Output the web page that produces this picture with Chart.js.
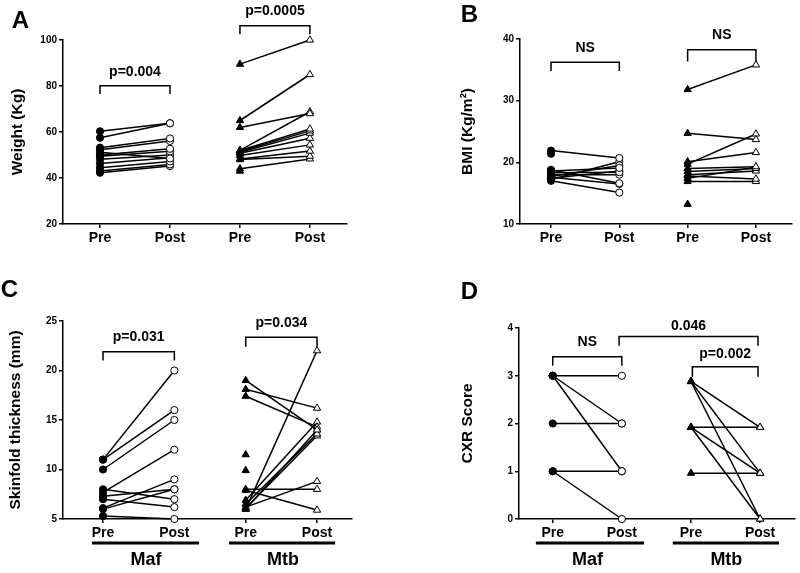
<!DOCTYPE html>
<html><head><meta charset="utf-8">
<script src="https://cdn.jsdelivr.net/npm/chart.js@4.4.1/dist/chart.umd.min.js"></script>
<style>
body{margin:0;background:#fff;width:800px;height:573px;position:relative;overflow:hidden}
canvas{position:absolute}
</style></head><body>
<canvas id="cA" width="400" height="280" style="left:0;top:0"></canvas>
<canvas id="cB" width="400" height="280" style="left:400px;top:0"></canvas>
<canvas id="cC" width="400" height="293" style="left:0;top:280px"></canvas>
<canvas id="cD" width="400" height="293" style="left:400px;top:280px"></canvas>
<script>
// ---- data ----
const xLabels = ['Pre', 'Post', 'Pre', 'Post'];
const groupLabels = ['Maf', 'Mtb'];

const weightMafPre  = [60.3, 57.5, 53.2, 52.3, 51.2, 50.0, 49.5, 48.1, 46.3, 44.5, 43.0, 42.3];
const weightMafPost = [63.8, 63.8, 57.2, 56.1, 48.5, 52.7, 51.6, 50.0, 48.8, 47.2, 45.9, 45.2];
const weightMtbPre  = [89.5, 65.0, 62.0, 52.0, 52.0, 51.6, 51.2, 50.8, 49.8, 48.3, 48.0, 44.0, 43.0];
const weightMtbPost = [100.0, 85.0, 68.0, 68.8, 61.3, 60.5, 59.5, 57.3, 54.4, 51.7, 49.5, 48.3, null];

const bmiMafPre  = [21.9, 21.4, 18.8, 18.6, 18.3, 18.0, 17.7, 17.6, 17.4, 17.2, 17.0];
const bmiMafPost = [20.7, null, 16.6, 19.1, 18.4, 18.0, 19.5, 16.5, 18.6, 20.1, 15.1];
const bmiMtbPre  = [31.8, 24.7, 20.1, 19.7, 19.0, 18.5, 18.0, 17.8, 17.4, 16.9, 13.2];
const bmiMtbPost = [35.8, 23.7, 21.6, 24.6, 19.3, 19.0, 18.6, 17.3, 19.2, 16.9, null];

const skinMafPre  = [11, 11, 10, 7.7, 8, 7.3, 7, 6.1, 6, 5.3];
const skinMafPost = [20, 16, 15, 12, 7, 8, 6.2, 9, 8, 5];
const skinMtbPre  = [19, 18.1, 17.4, 6, 8, 7.9, 6.2, 6.9, 6.5, 6.1, 6.0, 11.5, 9.9];
const skinMtbPost = [14, 16.2, 14.3, 22, 8, 5.9, 8.8, 14.8, 13.6, 13.4, 14.0, null, null];

const cxrMafPre  = [3, 3, 3, 2, 1, 1];
const cxrMafPost = [3, 2, 1, 2, 1, 0];
const cxrMtbPre  = [2.88, 2.88, 2.88, 1.92, 1.92, 1.92, 0.96];
const cxrMtbPost = [1.92, 0.96, 0, 1.92, 0.96, 0, 0.96];

// ---- helpers ----
const FONT = "'Liberation Sans', Arial, sans-serif";
Chart.defaults.font.family = FONT;
Chart.defaults.color = '#000';

function pairs(pre, post, grp) {
  const shape = grp === 'maf' ? 'circle' : 'triangle';
  const xo = grp === 'maf' ? 0 : 2;
  return pre.map((p, i) => ({
    data: post[i] == null ? [{x: 1 + xo, y: p}] : [{x: 1 + xo, y: p}, {x: 2 + xo, y: post[i]}],
    borderColor: '#000', borderWidth: 1.5, tension: 0, fill: false, clip: false,
    pointStyle: shape, pointRadius: grp === 'maf' ? 3.6 : 4.2,
    pointBackgroundColor: ['#000', '#fff'], pointBorderColor: '#000', pointBorderWidth: 1
  }));
}

function makeChart(id, c) {
  const deco = {
    id: 'deco' + id,
    afterDraw(chart) {
      const ctx = chart.ctx, xs = chart.scales.x, ys = chart.scales.y;
      ctx.save();
      ctx.fillStyle = '#000'; ctx.strokeStyle = '#000';
      ctx.textAlign = 'center'; ctx.textBaseline = 'middle';
      ctx.font = 'bold 24px ' + FONT;
      ctx.fillText(c.letter, c.letterPos[0], c.letterPos[1]);
      ctx.lineWidth = 1.5;
      ctx.font = 'bold 14px ' + FONT;
      c.brackets.forEach(b => {
        const X1 = xs.getPixelForValue(b.x1), X2 = xs.getPixelForValue(b.x2);
        const YT = ys.getPixelForValue(b.top), YE = ys.getPixelForValue(b.end);
        ctx.beginPath();
        ctx.moveTo(X1, YE); ctx.lineTo(X1, YT); ctx.lineTo(X2, YT); ctx.lineTo(X2, YE);
        ctx.stroke();
        ctx.fillText(b.text, (X1 + X2) / 2, ys.getPixelForValue(b.ty));
      });
      if (c.groups) {
        ctx.lineWidth = 3;
        ctx.font = 'bold 18px ' + FONT;
        c.groups.forEach((g, i) => {
          ctx.beginPath();
          ctx.moveTo(xs.getPixelForValue(g.x1), c.lineY);
          ctx.lineTo(xs.getPixelForValue(g.x2), c.lineY);
          ctx.stroke();
          ctx.fillText(groupLabels[i], xs.getPixelForValue(g.xc), c.labelY);
        });
      }
      ctx.restore();
    }
  };
  const axisGrid = {display: true, drawOnChartArea: false, drawTicks: true, tickLength: 4, color: '#000', lineWidth: 1.5};
  const axisBorder = {display: true, color: '#000', width: 1.5};
  new Chart(document.getElementById(id), {
    type: 'line',
    data: {datasets: [...pairs(c.mafPre, c.mafPost, 'maf'), ...pairs(c.mtbPre, c.mtbPost, 'mtb')]},
    options: {
      responsive: false, animation: false, devicePixelRatio: 1,
      layout: {padding: {left: c.padL, right: c.padR, top: c.padT, bottom: 0}},
      plugins: {legend: {display: false}, tooltip: {enabled: false}},
      scales: {
        x: {
          type: 'linear', min: c.xmin, max: c.xmax,
          afterBuildTicks: s => { s.ticks = [1, 2, 3, 4].map(v => ({value: v})); },
          ticks: {callback: v => xLabels[Math.round(v) - 1], font: {size: 14, weight: 'bold'}, color: '#000', padding: 2, maxRotation: 0, autoSkip: false},
          grid: axisGrid, border: axisBorder,
          afterFit: s => { s.height = c.xh; }
        },
        y: {
          min: c.ymin, max: c.ymax,
          ticks: {stepSize: c.step, font: {size: 10, weight: 'bold'}, color: '#000', padding: 2},
          grid: axisGrid, border: axisBorder,
          title: {display: true, text: c.title, font: {size: 15.5, weight: 'bold'}, color: '#000', padding: {top: c.titlePad, bottom: 0}},
          afterFit: s => { s.width = c.yw; }
        }
      }
    },
    plugins: [deco]
  });
}

makeChart('cA', {
  mafPre: weightMafPre, mafPost: weightMafPost, mtbPre: weightMtbPre, mtbPost: weightMtbPost,
  letter: 'A', letterPos: [20.5, 21], title: 'Weight (Kg)',
  padL: 0, yw: 63, titlePad: 8, padR: 53, padT: 40, xh: 56,
  xmin: 0.471, xmax: 4.53, ymin: 20, ymax: 100, step: 20,
  brackets: [
    {x1: 1, x2: 2, top: 80.1, end: 76.5, text: 'p=0.004', ty: 86.2},
    {x1: 3, x2: 4, top: 106.2, end: 102.5, text: 'p=0.0005', ty: 112.6}
  ]
});
makeChart('cB', {
  mafPre: bmiMafPre, mafPost: bmiMafPost, mtbPre: bmiMtbPre, mtbPost: bmiMtbPost,
  letter: 'B', letterPos: [69.5, 15], title: 'BMI (Kg/m\u00B2)',
  padL: 50, yw: 70, titlePad: 8, padR: 8, padT: 39, xh: 56,
  xmin: 0.546, xmax: 4.528, ymin: 10, ymax: 40, step: 10,
  brackets: [
    {x1: 1, x2: 2, top: 36.25, end: 34.8, text: 'NS', ty: 38.5},
    {x1: 3, x2: 4, top: 38.25, end: 36.35, text: 'NS', ty: 40.7}
  ]
});
makeChart('cC', {
  mafPre: skinMafPre, mafPost: skinMafPost, mtbPre: skinMtbPre, mtbPost: skinMtbPost,
  letter: 'C', letterPos: [9.5, 10], title: 'Skinfold thickness (mm)',
  padL: 0, yw: 63, titlePad: 6, padR: 48, padT: 41, xh: 54,
  xmin: 0.439, xmax: 4.49, ymin: 5, ymax: 25, step: 5,
  brackets: [
    {x1: 1, x2: 2, top: 21.9, end: 21.0, text: 'p=0.031', ty: 23.35},
    {x1: 3, x2: 4, top: 23.35, end: 22.4, text: 'p=0.034', ty: 24.77}
  ],
  groups: [{x1: 0.846, x2: 2.346, xc: 1.603}, {x1: 2.767, x2: 4.254, xc: 3.524}],
  lineY: 263, labelY: 280
});
makeChart('cD', {
  mafPre: cxrMafPre, mafPost: cxrMafPost, mtbPre: cxrMtbPre, mtbPost: cxrMtbPost,
  letter: 'D', letterPos: [69.5, 12.5], title: 'CXR Score',
  padL: 50, yw: 69, titlePad: 8, padR: 3, padT: 48, xh: 54,
  xmin: 0.512, xmax: 4.502, ymin: 0, ymax: 4, step: 1,
  brackets: [
    {x1: 1, x2: 2, top: 3.40, end: 3.21, text: 'NS', ty: 3.70},
    {x1: 1.96, x2: 3.97, top: 3.82, end: 3.63, text: '0.046', ty: 4.03},
    {x1: 3.02, x2: 3.97, top: 3.19, end: 2.98, text: 'p=0.002', ty: 3.46}
  ],
  groups: [{x1: 0.756, x2: 2.321, xc: 1.502}, {x1: 2.737, x2: 4.273, xc: 3.512}],
  lineY: 263, labelY: 280
});
</script>
</body></html>
